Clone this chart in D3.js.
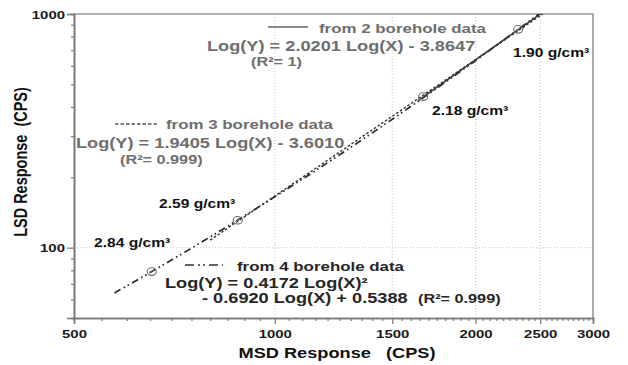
<!DOCTYPE html>
<html>
<head>
<meta charset="utf-8">
<script src="https://cdn.jsdelivr.net/npm/d3@7"></script>
<style>
  html, body { margin: 0; padding: 0; background: #fff; }
  svg { display: block; }
  text { font-family: "Liberation Sans", Arial, sans-serif; font-weight: bold; white-space: pre; }
</style>
</head>
<body>
<svg id="chart" width="628" height="365"></svg>
<script>
// ---- data ----
const xMajorTicks = [500, 1000, 1500, 2000, 2500, 3000];
const xTickLabels = ["500", "1000", "1500", "2000", "2500", "3000"];
const yMajorTicks = [100, 1000];
const yTickLabels = ["100", "1000"];
const yMinorTicks = [60, 70, 80, 90, 200, 300, 400, 500, 600, 700, 800, 900];

// density points (MSD, LSD) and their labels
const densityLabels = ["2.84 g/cm³", "2.59 g/cm³", "2.18 g/cm³", "1.90 g/cm³"];
const pointMSD = [654, 880, 1669, 2317];
const pointLSD = [79, 131, 443, 860];

// regression fits: log10(LSD) as function of log10(MSD)
const fit2Coef = [2.0201, -3.8647];          // 2 boreholes, linear
const fit3Coef = [1.9405, -3.6010];          // 3 boreholes, linear
const fit4Coef = [0.4172, -0.6920, 0.5388];  // 4 boreholes, quadratic
const fit2Range = [1640, 2540];
const fit3Range = [800, 2540];
const fit4Range = [575, 2540];

(function draw() {
  const SX = 1.3; // horizontal stretch of lettering
  const svg = d3.select("#chart");
  const pL = 74, pR = 593, pT = 14, pB = 318;

  const x = d3.scaleLog().domain([500, 3000]).range([pL, pR]);
  const y = d3.scaleLog().domain([50, 1000]).range([pB, pT]);

  function label(px, py, str, size, fill, anchor) {
    return svg.append("text")
      .attr("transform", `translate(${px},${py}) scale(${SX},1)`)
      .attr("font-size", size)
      .attr("fill", fill)
      .attr("text-anchor", anchor || "start")
      .text(str);
  }

  // grid
  const grid = svg.append("g").attr("stroke", "#c4c4c4").attr("stroke-width", 1)
    .attr("stroke-dasharray", "1,2");
  grid.selectAll("line.v").data(xMajorTicks.filter(d => d > 500 && d < 3000)).join("line")
    .attr("class", "v")
    .attr("x1", d => x(d)).attr("x2", d => x(d)).attr("y1", pT).attr("y2", pB);
  grid.selectAll("line.h").data([100]).join("line")
    .attr("class", "h")
    .attr("x1", pL).attr("x2", pR).attr("y1", d => y(d)).attr("y2", d => y(d));

  // frame (top / right)
  svg.append("path")
    .attr("d", `M${pL},${pT}H${pR}V${pB}`)
    .attr("fill", "none").attr("stroke", "#999").attr("stroke-width", 1.6);

  // x axis
  const xMinor = d3.range(550, 3000, 50).filter(d => !xMajorTicks.includes(d));
  const gx = svg.append("g").attr("transform", `translate(0,${pB})`);
  gx.append("g").call(d3.axisBottom(x).tickValues(xMinor).tickSize(3).tickFormat(""));
  gx.append("g").call(d3.axisBottom(x).tickValues(xMajorTicks).tickSize(6)
    .tickFormat((d, i) => xTickLabels[i]));
  gx.selectAll(".domain").attr("stroke", "#7a7a7a").attr("stroke-width", 1.6);
  gx.selectAll(".tick line").attr("stroke", "#7a7a7a").attr("stroke-width", 1.2);
  gx.selectAll(".tick text").each(function () {
    d3.select(this).attr("y", null).attr("dy", null)
      .attr("transform", `translate(0,20) scale(${SX},1)`)
      .attr("font-size", 11.5).attr("fill", "#1a1a1a");
  });
  gx.selectAll("g").attr("font-family", null);

  // y axis
  const gy = svg.append("g").attr("transform", `translate(${pL},0)`);
  gy.append("g").call(d3.axisLeft(y).tickValues(yMinorTicks).tickSize(3).tickFormat(""));
  gy.append("g").call(d3.axisLeft(y).tickValues(yMajorTicks).tickSize(7)
    .tickFormat((d, i) => yTickLabels[i]));
  gy.selectAll(".domain").attr("stroke", "#7a7a7a").attr("stroke-width", 1.6);
  gy.selectAll(".tick line").attr("stroke", "#7a7a7a").attr("stroke-width", 1.2);
  gy.selectAll(".tick text").each(function () {
    d3.select(this).attr("x", null).attr("dy", null)
      .attr("transform", `translate(-9,4) scale(${SX},1)`)
      .attr("font-size", 11.5).attr("fill", "#1a1a1a");
  });
  gy.selectAll("g").attr("font-family", null);

  // axis titles
  label(337, 358, "MSD Response\u00a0\u00a0\u00a0(CPS)", 14, "#111", "middle");
  svg.append("text")
    .attr("transform", `translate(27,162) scale(${SX},1) rotate(-90)`)
    .attr("font-size", 14.5).attr("fill", "#111").attr("text-anchor", "middle")
    .text("LSD Response\u00a0\u00a0(CPS)");

  // fitted curves
  svg.append("clipPath").attr("id", "plotclip").append("rect")
    .attr("x", pL).attr("y", pT).attr("width", pR - pL).attr("height", pB - pT);

  const linFit = c => lx => c[0] * lx + c[1];
  const quadFit = c => lx => c[0] * lx * lx + c[1] * lx + c[2];
  function curvePoints(f, range, n) {
    const l0 = Math.log10(range[0]), l1 = Math.log10(range[1]);
    return d3.range(n + 1).map(i => {
      const lx = l0 + (l1 - l0) * i / n;
      return [Math.pow(10, lx), Math.pow(10, f(lx))];
    });
  }
  const line = d3.line().x(d => x(d[0])).y(d => y(d[1]));
  const curves = svg.append("g").attr("clip-path", "url(#plotclip)").attr("fill", "none");

  curves.append("path")
    .attr("d", line(curvePoints(quadFit(fit4Coef), fit4Range, 80)))
    .attr("stroke", "#2a2a2a").attr("stroke-width", 1.7)
    .attr("stroke-dasharray", "7,3.5,1.6,3,1.6,3.5");
  curves.append("path")
    .attr("d", line(curvePoints(linFit(fit3Coef), fit3Range, 2)))
    .attr("stroke", "#333").attr("stroke-width", 1.4)
    .attr("stroke-dasharray", "2.5,2");
  curves.append("path")
    .attr("d", line(curvePoints(linFit(fit2Coef), fit2Range, 2)))
    .attr("stroke", "#3a3a3a").attr("stroke-width", 1.5);

  // density markers
  const mk = svg.append("g").attr("fill", "none").attr("stroke", "#6a6a6a").attr("stroke-width", 1.1);
  pointMSD.forEach((m, i) => {
    const cx = x(m), cy = y(pointLSD[i]);
    mk.append("ellipse").attr("cx", cx).attr("cy", cy).attr("rx", 4.6).attr("ry", 3.8);
    mk.append("line").attr("x1", cx - 2).attr("y1", cy + 1.5).attr("x2", cx + 2).attr("y2", cy - 1.5);
  });

  // density labels
  const densityPos = [[94, 246.5], [159, 208], [432, 115], [513, 57]];
  densityLabels.forEach((t, i) => label(densityPos[i][0], densityPos[i][1], t, 12, "#111"));

  // legend entries and equations
  const grey = "#6e6e6e";
  svg.append("line").attr("x1", 268).attr("x2", 308).attr("y1", 27).attr("y2", 27)
    .attr("stroke", "#666").attr("stroke-width", 1.4);
  label(319, 32.5, "from 2 borehole data", 13, grey);
  label(207, 50.5, "Log(Y) = 2.0201 Log(X) - 3.8647", 14, grey);
  label(251, 65.5, "(R²= 1)", 12.5, grey);

  svg.append("line").attr("x1", 115).attr("x2", 158).attr("y1", 124).attr("y2", 124)
    .attr("stroke", "#555").attr("stroke-width", 1.4).attr("stroke-dasharray", "3.5,2");
  label(166, 129, "from 3 borehole data", 13, grey);
  label(76, 147.5, "Log(Y) = 1.9405 Log(X) - 3.6010", 14, grey);
  label(120, 163.5, "(R²= 0.999)", 12.5, grey);

  svg.append("line").attr("x1", 185).attr("x2", 223).attr("y1", 265).attr("y2", 265)
    .attr("stroke", "#333").attr("stroke-width", 1.7).attr("stroke-dasharray", "9,4,2,3,2,4");
  label(237, 271, "from 4 borehole data", 13, "#262626");
  label(165, 288, "Log(Y) = 0.4172 Log(X)²", 14, "#262626");
  label(202, 303, "- 0.6920 Log(X) + 0.5388", 14, "#262626");
  label(418, 303, "(R²= 0.999)", 12.5, "#262626");
})();
</script>
</body>
</html>
